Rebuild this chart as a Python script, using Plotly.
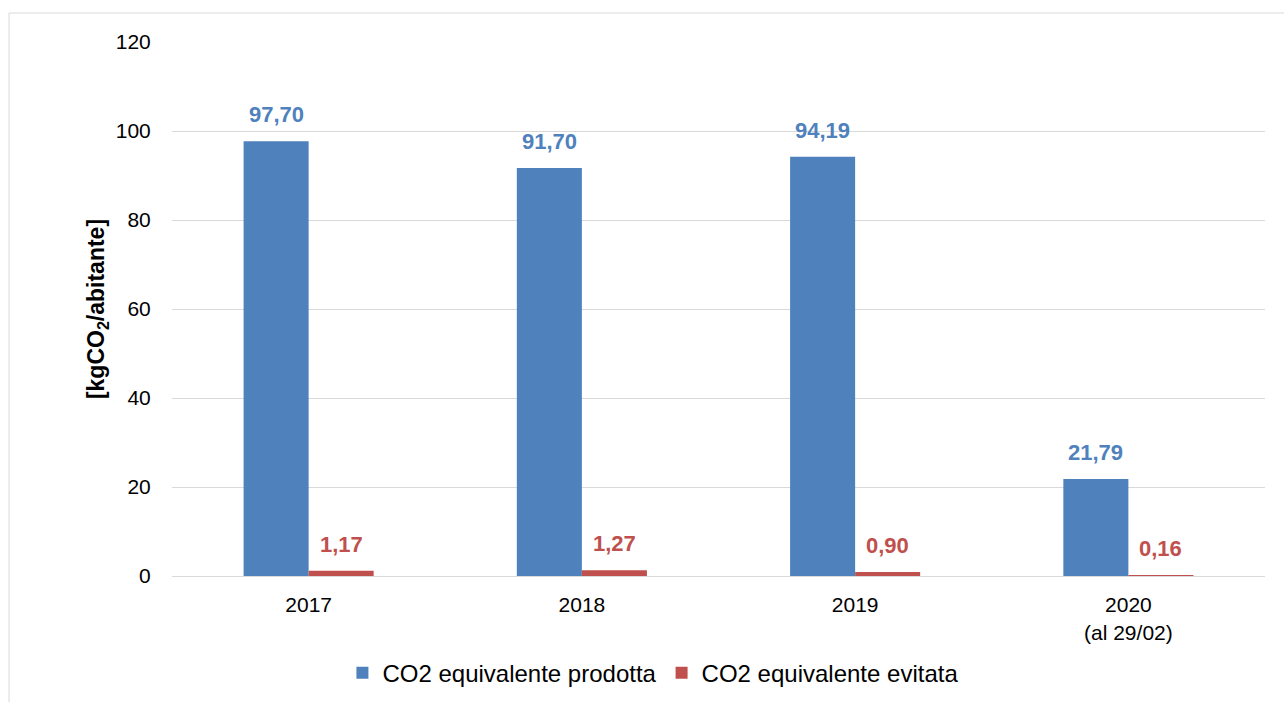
import plotly.graph_objects as go

categories = ["2017", "2018", "2019", "2020<br>(al 29/02)"]
prodotta = [97.70, 91.70, 94.19, 21.79]
evitata = [1.17, 1.27, 0.90, 0.16]
series_names = ["CO2 equivalente prodotta", "CO2 equivalente evitata"]
colors = ["#4F81BD", "#C0504D"]
y_ticks = [0, 20, 40, 60, 80, 100, 120]

FONT = "Liberation Sans, Arial, sans-serif"

fig = go.Figure()
for name, vals, col in zip(series_names, [prodotta, evitata], colors):
    fig.add_trace(go.Bar(x=categories, y=vals, name=name, marker=dict(color=col, line=dict(width=0))))

annotations = []
for k, (vals, col) in enumerate(zip([prodotta, evitata], colors)):
    shift = -32.5 if k == 0 else 32.5
    for i, v in enumerate(vals):
        annotations.append(dict(
            x=i, y=v, xref="x", yref="y", text="<b>" + f"{v:.2f}".replace(".", ",") + "</b>",
            showarrow=False, xshift=shift, yshift=12, yanchor="bottom", xanchor="center",
            font=dict(family=FONT, size=22, color=col)))

fig.update_layout(
    width=1284, height=702,
    margin=dict(l=172, r=19, t=42, b=126, autoexpand=False),
    paper_bgcolor="white", plot_bgcolor="white",
    font=dict(family=FONT, size=20, color="#000000"),
    barmode="group", bargap=0.524, bargroupgap=0,
    showlegend=True,
    legend=dict(orientation="h", x=0.44, xanchor="center", y=-0.182, yanchor="middle",
                itemwidth=30,
                font=dict(family=FONT, size=24, color="#000000"), traceorder="normal"),
    annotations=annotations,
    shapes=[dict(type="rect", xref="paper", yref="paper", x0=-0.1491, x1=1.2, y0=-0.5, y1=1.0543,
                 line=dict(color="#D9D9D9", width=1), fillcolor="rgba(0,0,0,0)", layer="below")],
)
fig.update_yaxes(range=[0, 120], tickvals=y_ticks, showgrid=True, gridcolor="#D9D9D9", gridwidth=1,
                 zeroline=True, zerolinecolor="#D9D9D9", zerolinewidth=1,
                 ticks="outside", ticklen=16, tickcolor="rgba(0,0,0,0)",
                 tickfont=dict(family=FONT, size=21, color="#000000"),
                 title=dict(text="<b>[kgCO<sub>2</sub>/abitante]</b>", standoff=4,
                            font=dict(family=FONT, size=23, color="#000000")),
                 showline=False, automargin=False)
fig.update_xaxes(type="category", range=[-0.5, 3.5], ticks="outside", ticklen=10, tickcolor="rgba(0,0,0,0)",
                 tickfont=dict(family=FONT, size=21, color="#000000"), showline=False, showgrid=False,
                 automargin=False)

fig.write_html("out.html", config={"displayModeBar": False},
               post_script="document.body.style.margin='0';document.body.style.padding='0';")
